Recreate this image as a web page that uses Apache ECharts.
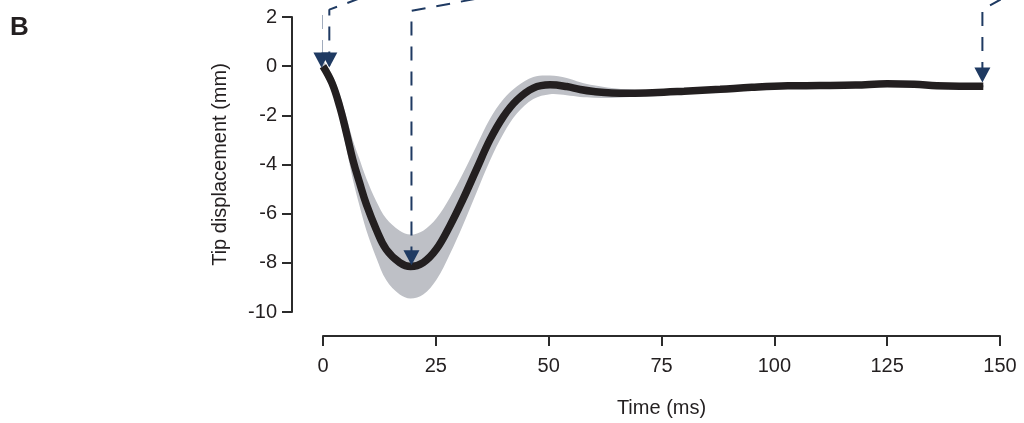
<!DOCTYPE html>
<html>
<head>
<meta charset="utf-8">
<script src="https://cdn.jsdelivr.net/npm/echarts/dist/echarts.min.js"></script>
<style>
  html, body { margin: 0; padding: 0; background: #fff; }
  #chart { width: 1024px; height: 423px; }
</style>
</head>
<body>
<div id="chart"></div>
<script>
  // time (ms)
  var timeMs = [0, 2, 3.7, 5.2, 6.6, 8.1, 9.6, 11.8, 14, 17, 19.4, 22.2, 25.1, 28.1, 31, 34, 37, 40, 43, 46.6,
    50.3, 54, 57, 60, 64, 68, 73, 80, 88, 95, 103, 110, 118, 125, 131, 136, 141, 146.3];
  // mean tip displacement (mm)
  var meanDisp = [0, -0.69, -1.64, -2.72, -3.8, -4.74, -5.62, -6.64, -7.45, -7.99, -8.15, -7.99, -7.45, -6.5, -5.42, -4.2, -2.99, -2.04, -1.37, -0.89,
    -0.76, -0.83, -0.95, -1.03, -1.09, -1.1, -1.08, -1.02, -0.94, -0.86, -0.8, -0.79, -0.77, -0.72, -0.74, -0.8, -0.82, -0.82];
  // shaded band edges
  var bandUpper = [0.2, -0.34, -1.14, -2.07, -3.0, -3.79, -4.57, -5.49, -6.2, -6.69, -6.85, -6.69, -6.2, -5.35, -4.37, -3.25, -2.14, -1.34, -0.82, -0.44,
    -0.38, -0.48, -0.65, -0.78, -0.89, -0.95, -0.98, -0.97, -0.89, -0.81, -0.75, -0.74, -0.72, -0.67, -0.69, -0.75, -0.77, -0.77];
  var bandLower = [-0.2, -1.04, -2.14, -3.37, -4.6, -5.69, -6.67, -7.79, -8.7, -9.29, -9.45, -9.29, -8.7, -7.65, -6.47, -5.15, -3.84, -2.74, -1.92, -1.34,
    -1.14, -1.18, -1.25, -1.28, -1.29, -1.25, -1.18, -1.07, -0.99, -0.91, -0.85, -0.84, -0.82, -0.77, -0.79, -0.85, -0.87, -0.87];

  // dashed pointer paths [time, displacement], last point is the arrow tip
  var pointerA = [[-3.5, 2.75], [-0.35, 2.45], [-0.35, -0.05]];
  var pointerB = [[8.3, 2.77], [1.4, 2.3], [1.4, -0.05]];
  var pointerC = [[33.6, 2.73], [19.6, 2.25], [19.6, -8.1]];
  var pointerD = [[150.5, 2.75], [146.1, 2.3], [146.1, -0.66]];

  var xTicks = [0, 150, 25];   // min, max, interval
  var yTicks = [-10, 2, 2];

  var navy = '#1f3a62';
  var ink = '#231f20';
  var font = 'Liberation Sans, Arial, sans-serif';

  function pairs(xs, ys) {
    var out = [];
    for (var i = 0; i < xs.length; i++) out.push([xs[i], ys[i]]);
    return out;
  }

  function pointerLine(data) {
    return {
      type: 'line',
      data: data,
      clip: false,
      symbol: 'none',
      z: 10,
      lineStyle: { color: navy, width: 2, type: [14, 11] }
    };
  }
  var tips = [pointerA, pointerB, pointerC, pointerD].map(function (p) { return p[p.length - 1]; });

  // whole band as one polygon: upper edge forward, lower edge back
  function renderBand(params, api) {
    if (params.dataIndex !== 0) return null;
    var pts = [];
    for (var i = 0; i < timeMs.length; i++) pts.push(api.coord([timeMs[i], bandUpper[i]]));
    for (var j = timeMs.length - 1; j >= 0; j--) pts.push(api.coord([timeMs[j], bandLower[j]]));
    return {
      type: 'polygon',
      shape: { points: pts, smooth: 0.35 },
      style: { fill: '#bec0c6', stroke: null }
    };
  }

  var myChart = echarts.init(document.getElementById('chart'));
  myChart.setOption({
    animation: false,
    title: {
      text: 'B', left: 5, top: 10,
      textStyle: { fontSize: 26, fontWeight: 'bold', color: ink, fontFamily: font }
    },
    grid: { left: 323, right: 24, top: 17, bottom: 110, containLabel: false },
    xAxis: {
      type: 'value',
      min: xTicks[0], max: xTicks[1], interval: xTicks[2],
      offset: 24,
      name: 'Time (ms)',
      nameLocation: 'middle',
      nameGap: 62,
      nameTextStyle: { fontSize: 20, color: ink, fontFamily: font },
      splitLine: { show: false },
      axisLine: { onZero: false, lineStyle: { color: '#2b2b2b', width: 2 } },
      axisTick: { length: 10, lineStyle: { color: '#2b2b2b', width: 2 } },
      axisLabel: { fontSize: 20, color: ink, fontFamily: font, margin: 20 }
    },
    yAxis: {
      type: 'value',
      min: yTicks[0], max: yTicks[1], interval: yTicks[2],
      offset: 31,
      name: 'Tip displacement (mm)',
      nameLocation: 'middle',
      nameGap: 62,
      nameTextStyle: { fontSize: 20, color: ink, fontFamily: font },
      splitLine: { show: false },
      axisLine: { show: true, onZero: false, lineStyle: { color: '#2b2b2b', width: 2 } },
      axisTick: { show: true, length: 10, lineStyle: { color: '#2b2b2b', width: 2 } },
      axisLabel: { fontSize: 20, color: ink, fontFamily: font, margin: 15 }
    },
    series: [{
      type: 'custom',
      name: 'band',
      data: pairs(timeMs, bandUpper),
      renderItem: renderBand,
      z: 1
    }, {
      type: 'line',
      name: 'mean',
      data: pairs(timeMs, meanDisp),
      smooth: 0.4,
      symbol: 'none',
      lineStyle: { color: ink, width: 7.5 },
      z: 5
    },
      pointerLine(pointerA),
      pointerLine(pointerB),
      pointerLine(pointerC),
      pointerLine(pointerD),
    {
      type: 'scatter',
      data: tips,
      clip: false,
      symbol: 'path://M0,0 L10,0 L5,10 Z',
      symbolSize: [16, 15],
      symbolOffset: [0, '-50%'],
      itemStyle: { color: navy, opacity: 1 },
      z: 11
    }]
  });
</script>
</body>
</html>
